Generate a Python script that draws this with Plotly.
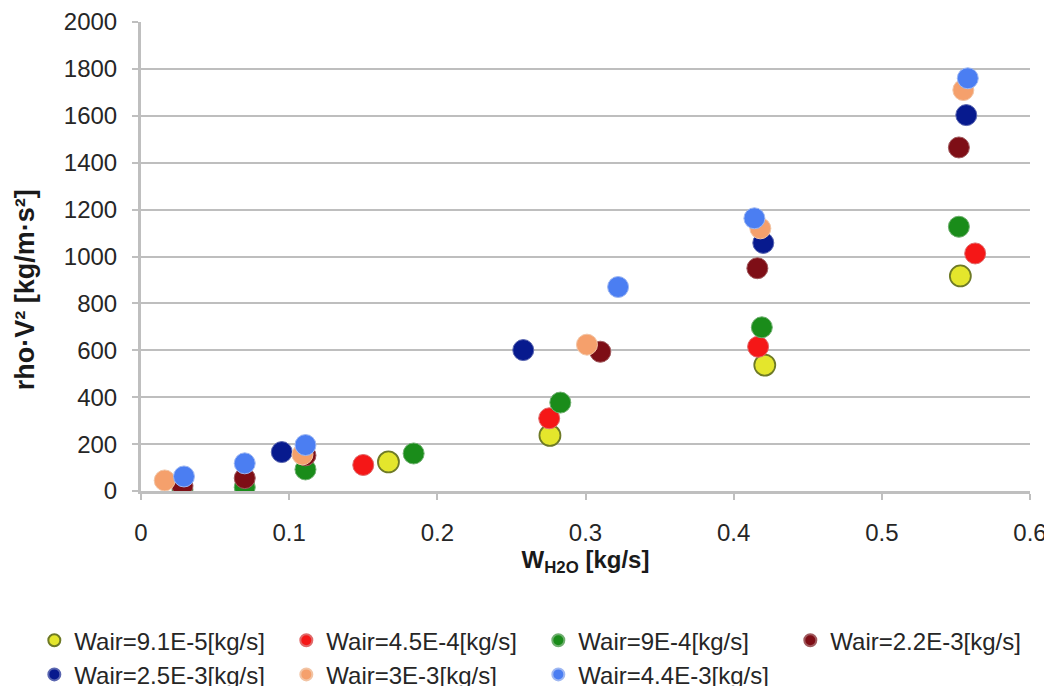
import plotly.graph_objects as go

# ---- data ----
series_names = [
    "Wair=9.1E-5[kg/s]", "Wair=4.5E-4[kg/s]", "Wair=9E-4[kg/s]", "Wair=2.2E-3[kg/s]",
    "Wair=2.5E-3[kg/s]", "Wair=3E-3[kg/s]", "Wair=4.4E-3[kg/s]",
]
yellow_x = [0.167, 0.276, 0.421, 0.553]
yellow_y = [124, 237, 537, 917]
red_x = [0.150, 0.2755, 0.4165, 0.563]
red_y = [111, 310, 615, 1013]
green_x = [0.028, 0.070, 0.111, 0.184, 0.283, 0.419, 0.552]
green_y = [6, 16, 92, 160, 377, 698, 1127]
darkred_x = [0.028, 0.070, 0.111, 0.310, 0.416, 0.552]
darkred_y = [22, 55, 152, 594, 950, 1465]
navy_x = [0.095, 0.258, 0.420, 0.557]
navy_y = [166, 601, 1058, 1603]
orange_x = [0.016, 0.109, 0.301, 0.418, 0.555]
orange_y = [45, 156, 624, 1120, 1710]
blue_x = [0.029, 0.070, 0.111, 0.322, 0.414, 0.558]
blue_y = [62, 118, 196, 870, 1163, 1760]

x_ticks = [0, 0.1, 0.2, 0.3, 0.4, 0.5, 0.6]
x_tick_labels = ["0", "0.1", "0.2", "0.3", "0.4", "0.5", "0.6"]
y_ticks = list(range(0, 2001, 200))

xs = [yellow_x, red_x, green_x, darkred_x, navy_x, orange_x, blue_x]
ys = [yellow_y, red_y, green_y, darkred_y, navy_y, orange_y, blue_y]
fills = ["#E4E62C", "#F51717", "#1A8C1A", "#7E0E16", "#071A8E", "#F5A06C", "#4B7EF2"]
lines = ["#6E7A26", "#E06A6A", "#6FAF6F", "#A05A5E", "#5A66B0", "#F2C4A4", "#9FB8F2"]
line_w = [1.8, 1, 1, 1, 1, 1, 1]

FONT = "Liberation Sans, Arial, sans-serif"

fig = go.Figure()
for name, x, y, fc, lc, lw in zip(series_names, xs, ys, fills, lines, line_w):
    fig.add_trace(go.Scatter(
        x=x, y=y, mode="markers", name=name,
        marker=dict(size=21, color=fc, line=dict(color=lc, width=lw)),
    ))

# the page body adds an 8px offset, so the figure is drawn 8px smaller
fig.update_layout(
    width=1044, height=678,
    paper_bgcolor="white", plot_bgcolor="white",
    margin=dict(l=133, r=22, t=14, b=195, autoexpand=False),
    font=dict(family=FONT, size=24, color="#262626"),
    showlegend=True,
    legend=dict(
        orientation="h", xref="paper", yref="paper",
        x=-0.12, y=-0.271, xanchor="left", yanchor="top",
        font=dict(size=24, color="#262626"),
        itemsizing="constant", itemwidth=30,
        entrywidth=207, entrywidthmode="pixels",
        tracegroupgap=0,
    ),
    xaxis=dict(
        range=[0, 0.6], tickvals=x_ticks, ticktext=x_tick_labels,
        showgrid=False, zeroline=False, automargin=False,
        showline=True, linecolor="#BFBFBF", linewidth=3,
        ticks="outside", ticklen=6, tickcolor="#BFBFBF", tickwidth=2,
        ticklabelstandoff=12,
        title=dict(text="<b>W<sub>H2O</sub> [kg/s]</b>", font=dict(size=24, color="#1a1a1a"), standoff=1),
        fixedrange=True,
    ),
    yaxis=dict(
        range=[0, 2000], tickvals=y_ticks,
        showgrid=True, gridcolor="#BEBEBE", gridwidth=2,
        zeroline=False, automargin=False,
        showline=True, linecolor="#BFBFBF", linewidth=3,
        ticks="outside", ticklen=6, tickcolor="#BFBFBF", tickwidth=2,
        ticklabelstandoff=10,
        fixedrange=True,
    ),
    annotations=[dict(
        text="<b>rho·V² [kg/m·s²]</b>", textangle=-90,
        xref="paper", yref="paper", x=-0.1305, y=0.43,
        xanchor="center", yanchor="middle", showarrow=False,
        font=dict(family=FONT, size=27, color="#1a1a1a"),
    )],
)

fig.write_html("out.html")
